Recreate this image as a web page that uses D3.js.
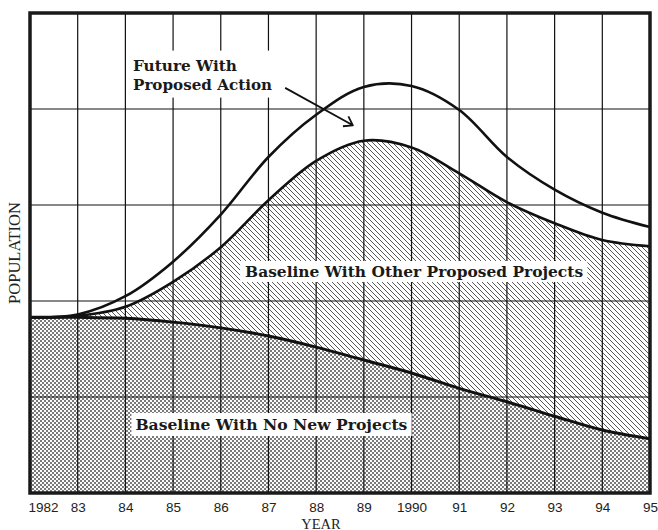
<!DOCTYPE html>
<html>
<head>
<meta charset="utf-8">
<script src="https://cdn.jsdelivr.net/npm/d3@7"></script>
<style>
  html, body { margin: 0; padding: 0; background: #fff; }
  svg { display: block; }
</style>
</head>
<body>
<svg id="chart" width="658" height="530"></svg>
<script>
// ---- data ----
const years = [1982, 1983, 1984, 1985, 1986, 1987, 1988, 1989, 1990, 1991, 1992, 1993, 1994, 1995];
const yearLabels = ["1982", "83", "84", "85", "86", "87", "88", "89", "1990", "91", "92", "93", "94", "95"];
const noNewProjects   = [1.83, 1.83, 1.82, 1.78, 1.72, 1.635, 1.52, 1.385, 1.25, 1.09, 0.95, 0.80, 0.656, 0.565];
const otherProjects   = [1.83, 1.845, 1.94, 2.20, 2.56, 3.05, 3.46, 3.67, 3.60, 3.33, 3.03, 2.81, 2.635, 2.57];
const proposedAction  = [1.83, 1.86, 2.05, 2.41, 2.90, 3.50, 3.94, 4.23, 4.24, 3.99, 3.50, 3.16, 2.92, 2.77];
const gridValues = [0, 1, 2, 3, 4, 5];

const W = 658, H = 530;
const svg = d3.select("#chart");
const x = d3.scaleLinear().domain([1982, 1995]).range([30, 650]);
const y = d3.scaleLinear().domain([0, 5]).range([493, 13]);

// ---- patterns ----
const defs = svg.append("defs");
const dots = defs.append("pattern").attr("id", "dots").attr("patternUnits", "userSpaceOnUse")
  .attr("width", 4).attr("height", 4);
dots.append("rect").attr("width", 4).attr("height", 4).attr("fill", "#fafafa");
dots.append("rect").attr("x", 0).attr("y", 0).attr("width", 2).attr("height", 2).attr("fill", "#7a7a7a");
dots.append("rect").attr("x", 2).attr("y", 2).attr("width", 2).attr("height", 2).attr("fill", "#7a7a7a");

const hatch = defs.append("pattern").attr("id", "hatch").attr("patternUnits", "userSpaceOnUse")
  .attr("width", 5).attr("height", 5);
hatch.append("rect").attr("width", 5).attr("height", 5).attr("fill", "#fff");
hatch.append("path").attr("d", "M-1,-1 L6,6 M-1,4 L1,6 M4,-1 L6,1")
  .attr("stroke", "#444").attr("stroke-width", 0.9);

svg.append("rect").attr("width", W).attr("height", H).attr("fill", "#fff");

const curve = d3.curveCatmullRom.alpha(0.5);
const idx = years.map((d, i) => i);

// lower stippled area
svg.append("path")
  .attr("d", d3.area().curve(curve).x(i => x(years[i])).y0(y(0)).y1(i => y(noNewProjects[i]))(idx))
  .attr("fill", "url(#dots)");
// hatched area
svg.append("path")
  .attr("d", d3.area().curve(curve).x(i => x(years[i])).y0(i => y(noNewProjects[i])).y1(i => y(otherProjects[i]))(idx))
  .attr("fill", "url(#hatch)");

// ---- grid ----
const grid = svg.append("g").attr("stroke", "#111").attr("stroke-width", 1.2);
grid.selectAll("line.v").data(years).join("line").attr("class", "v")
  .attr("x1", d => x(d)).attr("x2", d => x(d)).attr("y1", y(5)).attr("y2", y(0));
grid.selectAll("line.h").data(gridValues).join("line").attr("class", "h")
  .attr("x1", x(1982)).attr("x2", x(1995)).attr("y1", d => y(d)).attr("y2", d => y(d));

// ---- lines ----
const line = series => d3.line().curve(curve).x(i => x(years[i])).y(i => y(series[i]))(idx);
svg.append("path").attr("d", line(noNewProjects)).attr("fill", "none").attr("stroke", "#111").attr("stroke-width", 3);
svg.append("path").attr("d", line(otherProjects)).attr("fill", "none").attr("stroke", "#111").attr("stroke-width", 2.6);
svg.append("path").attr("d", line(proposedAction)).attr("fill", "none").attr("stroke", "#111").attr("stroke-width", 2.6);

// ---- frame ----
svg.append("rect").attr("x", x(1982)).attr("y", y(5)).attr("width", x(1995) - x(1982)).attr("height", y(0) - y(5))
  .attr("fill", "none").attr("stroke", "#1a1a1a").attr("stroke-width", 3.5);

// ---- axis ----
const xAxis = d3.axisBottom(x).tickValues(years).tickSize(0).tickFormat((d, i) => yearLabels[i]);
const gx = svg.append("g").attr("transform", `translate(0,${y(0)})`).call(xAxis);
gx.select(".domain").remove();
gx.selectAll("text").attr("y", 19).attr("dy", 0)
  .attr("font-family", "'Liberation Sans', Arial, sans-serif").attr("font-size", 13.5).attr("fill", "#222");
gx.selectAll("text").filter((d, i) => i === 0).attr("text-anchor", "start").attr("x", -2);

svg.append("text").attr("x", x(1988.1)).attr("y", 528.5).attr("text-anchor", "middle")
  .attr("font-family", "'Liberation Serif', 'Times New Roman', serif").attr("font-size", 14.5).attr("fill", "#222")
  .text("YEAR");
svg.append("text").attr("transform", `translate(20,${y(2.5)}) rotate(-90)`).attr("text-anchor", "middle")
  .attr("font-family", "'Liberation Serif', 'Times New Roman', serif").attr("font-size", 16.5).attr("fill", "#222")
  .text("POPULATION");

// ---- labels with white boxes ----
const labelFont = "'DejaVu Serif', serif";
function boxedLabel(lines, xv, yv, lineGap, widths, pad) {
  const g = svg.append("g");
  const rect = g.append("rect").attr("fill", "#fff");
  lines.forEach((t, k) => g.append("text")
    .attr("x", x(xv)).attr("y", y(yv) + k * lineGap)
    .attr("font-family", labelFont).attr("font-weight", "bold").attr("font-size", 15.5)
    .attr("fill", "#1a1a1a")
    .attr("textLength", widths[k]).attr("lengthAdjust", "spacingAndGlyphs")
    .text(t));
  const bb = g.node().getBBox();
  rect.attr("x", bb.x - pad[0]).attr("y", bb.y - pad[1])
    .attr("width", bb.width + pad[0] + pad[2]).attr("height", bb.height + pad[1] + pad[3]);
  return g;
}
boxedLabel(["Future With", "Proposed Action"], 1984.16, 4.40, 19, [104, 139], [2, 5, 10, 4]);
boxedLabel(["Baseline With Other Proposed Projects"], 1986.51, 2.25, 0, [338], [5, 1, 4, 1]);
boxedLabel(["Baseline With No New Projects"], 1984.21, 0.656, 0, [272], [4, 2, 4, 2]);

// ---- arrow ----
const a0 = [x(1987.35), y(4.22)], a1 = [x(1988.77), y(3.83)];
const ang = Math.atan2(a1[1] - a0[1], a1[0] - a0[0]);
const L = 10, spread = 0.6;
const h1 = [a1[0] - L * Math.cos(ang - spread), a1[1] - L * Math.sin(ang - spread)];
const h2 = [a1[0] - L * Math.cos(ang + spread), a1[1] - L * Math.sin(ang + spread)];
svg.append("path")
  .attr("d", `M${a0}L${a1}M${h1}L${a1}L${h2}`)
  .attr("fill", "none").attr("stroke", "#111").attr("stroke-width", 1.8).attr("stroke-linejoin", "round");
</script>
</body>
</html>
